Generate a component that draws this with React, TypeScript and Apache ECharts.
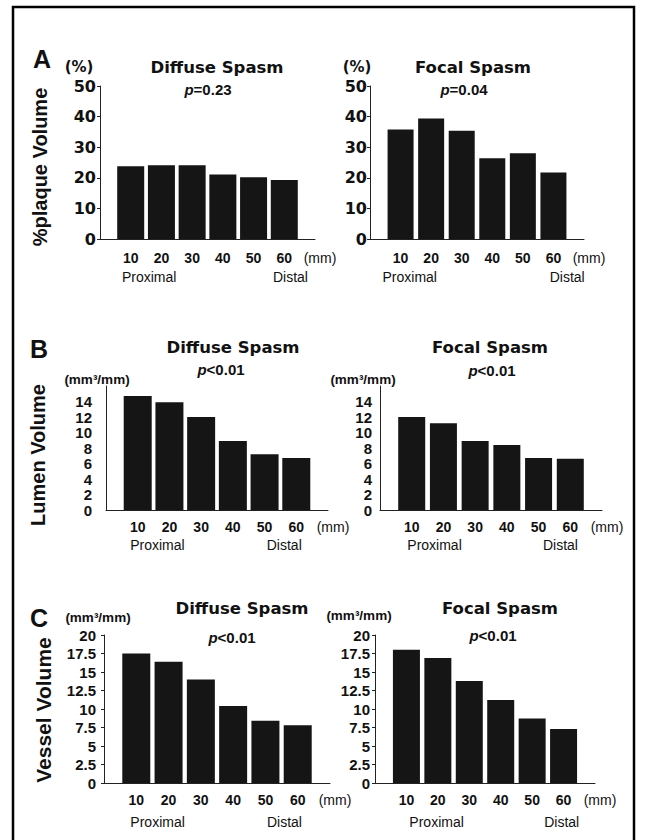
import React, { useEffect, useRef } from "react";
import * as echarts from "echarts";

// ---- data ----
const positions = [10, 20, 30, 40, 50, 60];
const xTickLabels = [10, 20, 30, 40, 50, 60];
const plaqueDiffuse = [23.8, 24.1, 24.1, 21.1, 20.2, 19.3];
const plaqueFocal = [35.8, 39.4, 35.4, 26.4, 28.0, 21.7];
const lumenDiffuse = [14.7, 13.9, 12.0, 8.9, 7.2, 6.7];
const lumenFocal = [12.0, 11.2, 8.9, 8.4, 6.7, 6.6];
const vesselDiffuse = [17.5, 16.4, 14.0, 10.4, 8.4, 7.8];
const vesselFocal = [18.0, 16.9, 13.8, 11.2, 8.7, 7.3];
const panelTitles = ["Diffuse Spasm", "Focal Spasm", "Diffuse Spasm", "Focal Spasm", "Diffuse Spasm", "Focal Spasm"];
const pValueTexts = ["=0.23", "=0.04", "<0.01", "<0.01", "<0.01", "<0.01"];
const rowLabels = ["%plaque Volume", "Lumen Volume", "Vessel Volume"];
const rowLetters = ["A", "B", "C"];
const unitLabels = ["(%)", "(%)", "(mm³/mm)", "(mm³/mm)", "(mm³/mm)", "(mm³/mm)"];
const lumenTicks = [0, 2, 4, 6, 8, 10, 12, 14];

const FW = '"DejaVu Sans", sans-serif';
const FA = '"Liberation Sans", Arial, sans-serif';
const INK = "#111";

// ---- layout (positions/styles) ----
const panels = [
  { values: plaqueDiffuse, grid: { left: 100, top: 86, width: 215, height: 153 }, yMax: 50, yInterval: 10, yFont: { fontSize: 16, fontFamily: FW }, yMargin: 4, yTick: true, xMargin: 12, subMargin: 31, prox: 16, dist: 62, barW: 27, title: [217, 67], p: [208, 89], unit: [79, 67] },
  { values: plaqueFocal, grid: { left: 370, top: 86, width: 214, height: 153 }, yMax: 50, yInterval: 10, yFont: { fontSize: 16, fontFamily: FW }, yMargin: 3, yTick: true, xMargin: 12, subMargin: 31, prox: 13, dist: 64.5, barW: 26, title: [473, 67], p: [464, 89], unit: [357, 67] },
  { values: lumenDiffuse, grid: { left: 106, top: 386, width: 222, height: 124 }, yMax: 16, yInterval: 2, yFont: { fontSize: 15, fontFamily: FA }, yMargin: 14, yTick: false, xMargin: 10, subMargin: 28, prox: 16.2, dist: 56.2, barW: 28, title: [233, 347], p: [221, 369], unit: [97, 379] },
  { values: lumenFocal, grid: { left: 380, top: 386, width: 222, height: 124 }, yMax: 16, yInterval: 2, yFont: { fontSize: 15, fontFamily: FA }, yMargin: 8, yTick: false, xMargin: 10, subMargin: 28, prox: 17.2, dist: 56.9, barW: 27, title: [490, 347], p: [492, 370], unit: [363, 379] },
  { values: vesselDiffuse, grid: { left: 104, top: 635, width: 226, height: 148 }, yMax: 20, yInterval: 2.5, yFont: { fontSize: 15, fontFamily: FA }, yMargin: 8, yTick: true, xMargin: 10, subMargin: 32, prox: 16.6, dist: 55.9, barW: 28, title: [242, 608], p: [232, 637], unit: [98, 617] },
  { values: vesselFocal, grid: { left: 375, top: 635, width: 220, height: 148 }, yMax: 20, yInterval: 2.5, yFont: { fontSize: 15, fontFamily: FA }, yMargin: 5, yTick: true, xMargin: 10, subMargin: 32, prox: 19.6, dist: 59.4, barW: 27, title: [500, 608], p: [493, 635], unit: [359, 615] },
];
const rowLayout = [
  { letter: [42, 59], label: [40, 167], labelSize: 20 },
  { letter: [39, 349], label: [38, 455], labelSize: 20 },
  { letter: [39, 618], label: [43, 710], labelSize: 21 },
];

function txt(text: string, x: number, y: number, size: number, family: string, weight: string, extra: any = {}) {
  const { rotation, rich, ...rest } = extra;
  return {
    type: "text",
    x,
    y,
    rotation: rotation || 0,
    silent: true,
    style: {
      text,
      x: 0,
      y: 0,
      fill: INK,
      fontSize: size,
      fontFamily: family,
      fontWeight: weight,
      align: "center",
      verticalAlign: "middle",
      textAlign: "center",
      textVerticalAlign: "middle",
      rich,
      ...rest,
    },
  };
}

export default function App() {
  const ref = useRef<HTMLDivElement>(null);
  useEffect(() => {
    if (!ref.current) return;
    const chart = echarts.init(ref.current, null, { renderer: "svg" });
    const grids: any[] = [];
    const xAxes: any[] = [];
    const yAxes: any[] = [];
    const series: any[] = [];
    const graphic: any[] = [];

    graphic.push({
      type: "rect",
      silent: true,
      shape: { x: 13, y: 7, width: 621, height: 860 },
      style: { fill: "none", stroke: "#000", lineWidth: 2.5 },
    });

    panels.forEach((pn, i) => {
      grids.push({ ...pn.grid, containLabel: false, outerBoundsMode: "none" });
      xAxes.push({
        gridIndex: i,
        type: "value",
        min: 0,
        max: 70,
        axisLine: { show: true, onZero: false, lineStyle: { color: "#222", width: 1 } },
        axisTick: { show: false },
        splitLine: { show: false },
        axisLabel: {
          customValues: [...xTickLabels, 70],
          showMinLabel: true,
          showMaxLabel: true,
          margin: pn.xMargin,
          color: INK,
          fontSize: 14,
          fontWeight: "bold",
          fontFamily: FA,
          formatter: (v: number) => (v === 70 ? "{mm|(mm)}" : String(v)),
          rich: {
            mm: { fontSize: 14, fontWeight: "normal", fontFamily: FA, color: INK, padding: [0, 0, 0, 10] },
          },
        },
      });
      xAxes.push({
        gridIndex: i,
        type: "value",
        position: "bottom",
        min: 0,
        max: 70,
        axisLine: { show: false },
        axisTick: { show: false },
        splitLine: { show: false },
        axisLabel: {
          customValues: [pn.prox, pn.dist],
          margin: pn.subMargin,
          color: INK,
          fontSize: 14,
          fontWeight: "normal",
          fontFamily: FA,
          formatter: (v: number) => (v === pn.prox ? "Proximal" : "Distal"),
        },
      });
      const yLabel: any = {
        margin: pn.yMargin,
        color: INK,
        fontWeight: "bold",
        ...pn.yFont,
      };
      const yAxis: any = {
        gridIndex: i,
        type: "value",
        min: 0,
        max: pn.yMax,
        interval: pn.yInterval,
        axisLine: { show: true, lineStyle: { color: "#222", width: 1 } },
        axisTick: { show: pn.yTick, length: 3, lineStyle: { color: "#222" } },
        splitLine: { show: false },
        axisLabel: yLabel,
      };
      if (pn.yMax === 16) {
        yLabel.customValues = lumenTicks;
        yAxis.axisTick.customValues = lumenTicks;
      }
      yAxes.push(yAxis);
      series.push({
        type: "bar",
        xAxisIndex: 2 * i,
        yAxisIndex: i,
        barWidth: pn.barW,
        data: positions.map((p, j) => [p, pn.values[j]]),
        itemStyle: { color: "#151515" },
        silent: true,
      });

      graphic.push(txt(panelTitles[i], pn.title[0], pn.title[1], 16.5, FW, "bold"));
      graphic.push(
        txt("{i|p}{n|" + pValueTexts[i] + "}", pn.p[0], pn.p[1], 15, FA, "bold", {
          rich: {
            i: { fontSize: 15, fontFamily: FA, fontWeight: "bold", fontStyle: "italic", fill: INK, color: INK },
            n: { fontSize: 15, fontFamily: FA, fontWeight: "bold", fill: INK, color: INK },
          },
        })
      );
      const isPct = unitLabels[i] === "(%)";
      graphic.push(txt(unitLabels[i], pn.unit[0], pn.unit[1], isPct ? 15 : 13.5, isPct ? FW : FA, "bold"));
    });

    rowLayout.forEach((r, k) => {
      graphic.push(txt(rowLetters[k], r.letter[0], r.letter[1], 25, FA, "bold"));
      graphic.push(txt(rowLabels[k], r.label[0], r.label[1], r.labelSize, FA, "bold", { rotation: Math.PI / 2 }));
    });

    chart.setOption({
      animation: false,
      backgroundColor: "#fff",
      grid: grids,
      xAxis: xAxes,
      yAxis: yAxes,
      series,
      graphic,
    });
    return () => chart.dispose();
  }, []);
  return <div ref={ref} style={{ position: "absolute", left: 0, top: 0, width: 647, height: 840 }} />;
}
